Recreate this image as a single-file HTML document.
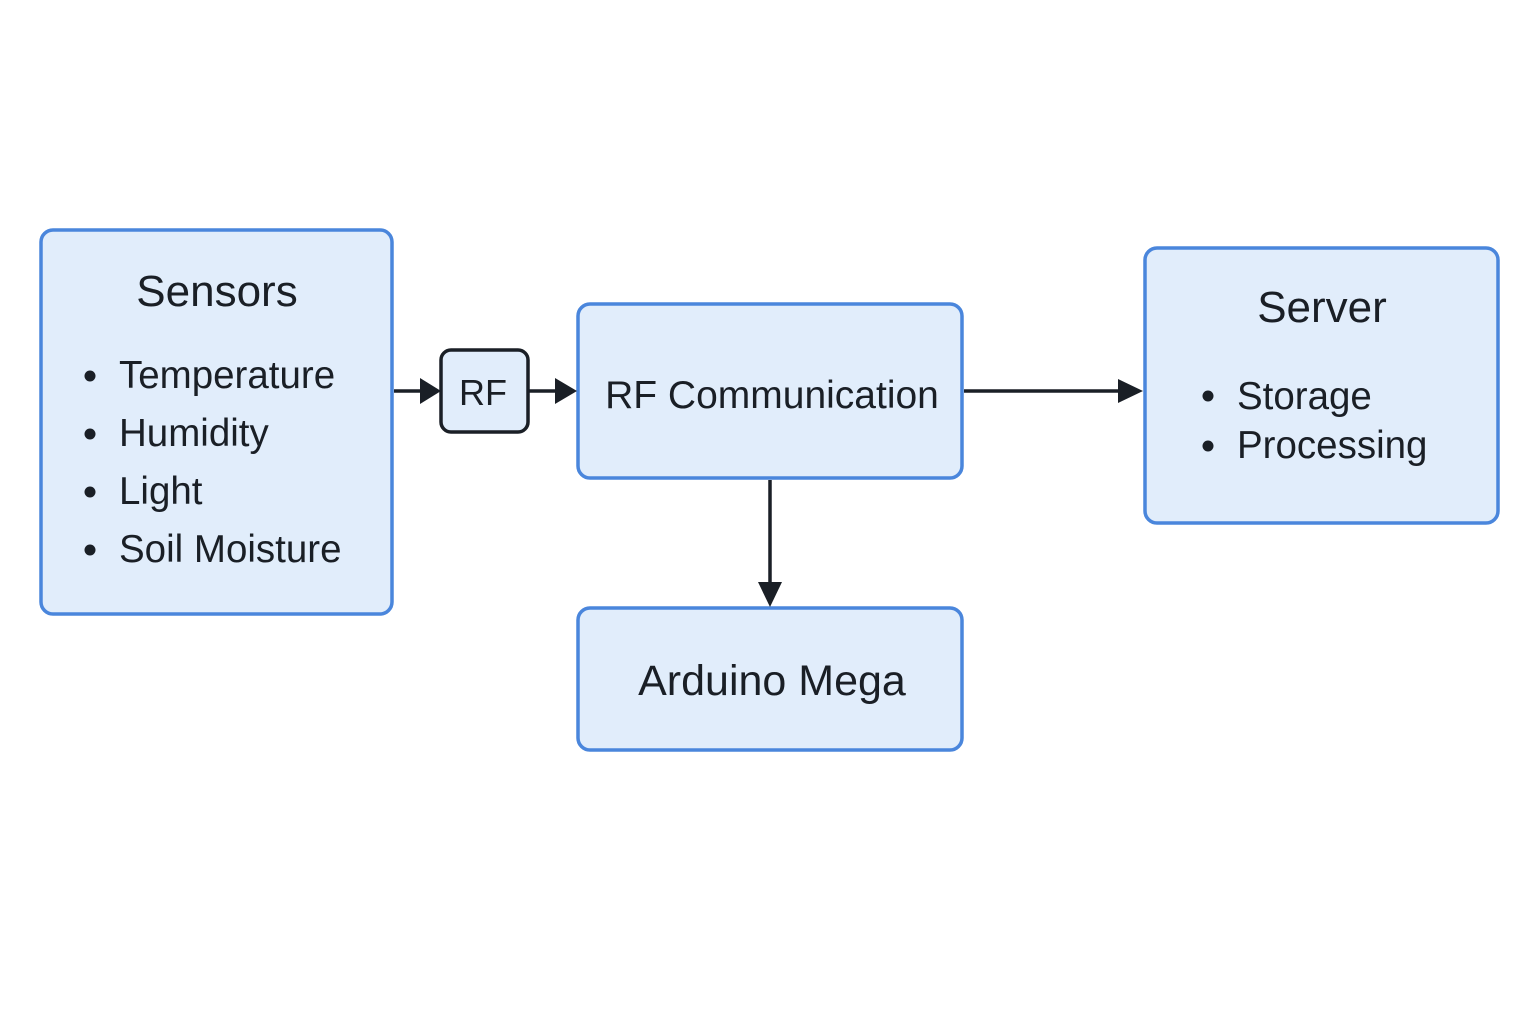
<!DOCTYPE html>
<html><head><style>body{margin:0;background:#fff}</style></head><body>
<svg width="1536" height="1024" xmlns="http://www.w3.org/2000/svg" font-family="Liberation Sans, DejaVu Sans, sans-serif" fill="#1a1f26">
<g fill="#e1edfb" stroke="#4a86dc" stroke-width="3.5">
<rect x="41" y="230" width="351" height="384" rx="12"/>
<rect x="578" y="304" width="384" height="174" rx="12"/>
<rect x="1145" y="248" width="353" height="275" rx="12"/>
<rect x="578" y="608" width="384" height="142" rx="12"/>
</g>
<rect x="441" y="350" width="87" height="82" rx="10" fill="#e1edfb" stroke="#1a1f26" stroke-width="3.5"/>
<g stroke="#1a1f26" stroke-width="3.5" fill="none">
<line x1="394" y1="391" x2="430" y2="391"/>
<path d="M420,378 L441,391 L420,404 z" fill="#1a1f26" stroke="none"/>
<line x1="528" y1="391" x2="562" y2="391"/>
<path d="M555,378 L577,391 L555,404 z" fill="#1a1f26" stroke="none"/>
<line x1="964" y1="391" x2="1125" y2="391"/>
<path d="M1118,379 L1143,391 L1118,403 z" fill="#1a1f26" stroke="none"/>
<line x1="770" y1="480" x2="770" y2="590"/>
<path d="M758,582 L770,607 L782,582 z" fill="#1a1f26" stroke="none"/>
</g>
<g font-size="44" text-anchor="middle">
<text x="217" y="306">Sensors</text>
<text x="1322" y="322">Server</text>
</g>
<text x="772" y="695" font-size="43" text-anchor="middle">Arduino Mega</text>
<text x="772" y="408" font-size="39" text-anchor="middle">RF Communication</text>
<text x="483" y="405" font-size="36" text-anchor="middle">RF</text>
<g font-size="38.5">
<text x="119" y="388">Temperature</text>
<text x="119" y="446">Humidity</text>
<text x="119" y="504">Light</text>
<text x="119" y="562">Soil Moisture</text>
<text x="1237" y="409">Storage</text>
<text x="1237" y="458">Processing</text>
</g>
<g>
<circle cx="90" cy="376" r="5.5"/><circle cx="90" cy="434" r="5.5"/><circle cx="90" cy="492" r="5.5"/><circle cx="90" cy="550" r="5.5"/>
<circle cx="1208" cy="396" r="5.5"/><circle cx="1208" cy="446" r="5.5"/>
</g>
</svg>
</body></html>
